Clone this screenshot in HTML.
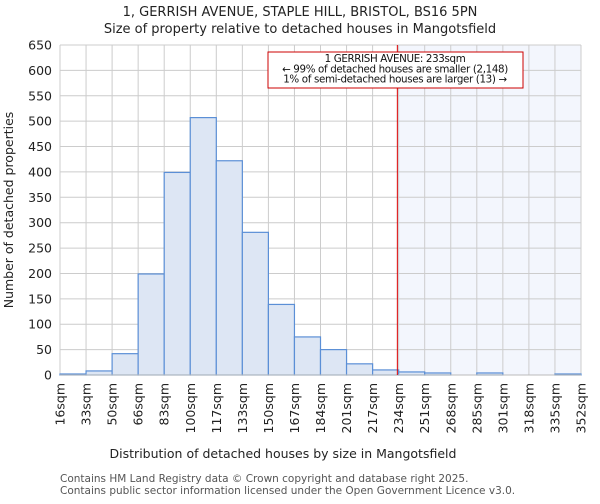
<!DOCTYPE html>
<html><head><meta charset="utf-8"><style>
body{margin:0;background:#fff;font-family:"DejaVu Sans","Liberation Sans",sans-serif}
</style></head><body>
<svg width="600" height="500" xmlns="http://www.w3.org/2000/svg" font-family="DejaVu Sans, Liberation Sans, sans-serif">
<text x="300" y="16" text-anchor="middle" font-size="13" fill="#222">1, GERRISH AVENUE, STAPLE HILL, BRISTOL, BS16 5PN</text>
<text x="300" y="33" text-anchor="middle" font-size="13" fill="#222">Size of property relative to detached houses in Mangotsfield</text>
<g id="plot"></g>
<text x="283" y="458" text-anchor="middle" font-size="12.5" fill="#222">Distribution of detached houses by size in Mangotsfield</text>
<text transform="translate(13,210) rotate(-90)" text-anchor="middle" font-size="12.5" fill="#222">Number of detached properties</text>
<text x="60" y="482" font-size="10.5" fill="#555">Contains HM Land Registry data © Crown copyright and database right 2025.</text>
<text x="60" y="494" font-size="10.5" fill="#555">Contains public sector information licensed under the Open Government Licence v3.0.</text>
</svg>
<script>
const categories=["16sqm","33sqm","50sqm","66sqm","83sqm","100sqm","117sqm","133sqm","150sqm","167sqm","184sqm","201sqm","217sqm","234sqm","251sqm","268sqm","285sqm","301sqm","318sqm","335sqm","352sqm"];
const counts=[2,8,42,199,399,507,422,281,139,75,50,22,10,6,4,0,4,0,0,2];
const yTicks=[0,50,100,150,200,250,300,350,400,450,500,550,600,650];
const markerBin=12.95;
const NS="http://www.w3.org/2000/svg";
const g=document.getElementById('plot');
const L=60,R=581,T=45,B=375,yMax=650;
const n=counts.length,bw=(R-L)/n;
const x=i=>L+i*bw;
const y=v=>B-v/yMax*(B-T);
function mk(t,a){const e=document.createElementNS(NS,t);for(const k in a)e.setAttribute(k,a[k]);g.appendChild(e);return e;}
let e;
e=mk('rect',{x:x(markerBin),y:T,width:R-x(markerBin),height:B-T,fill:'#f3f6fd'});


yTicks.forEach(v=>{
 e=mk('line',{x1:L,x2:R,y1:y(v),y2:y(v),stroke:'#cccccc','stroke-width':1});
 
 
 e=mk('text',{x:L-8,y:y(v)+4.5,'text-anchor':'end','font-size':12.5,fill:'#222'});
 e.textContent=v;
 
 
});
categories.forEach((c,i)=>{
 e=mk('line',{x1:x(i),x2:x(i),y1:T,y2:B,stroke:'#cccccc','stroke-width':1});
 
 
 e=mk('text',{transform:`translate(${x(i)+4.5},${B+8}) rotate(-90)`,'text-anchor':'end','font-size':12.5,fill:'#222'});
 e.textContent=c;
 
 
});
counts.forEach((v,i)=>{
 if(v<=0)return;
 e=mk('rect',{x:x(i),y:y(v),width:bw,height:B-y(v),fill:'#dde6f4',stroke:'#5b8fd6','stroke-width':1.2});
 
 
});
e=mk('line',{x1:L,x2:R,y1:B,y2:B,stroke:'#bbb'});


e=mk('line',{x1:x(markerBin),x2:x(markerBin),y1:T,y2:B,stroke:'#dd0000','stroke-width':1});


e=mk('rect',{x:268,y:52,width:255,height:36,fill:'#fff',stroke:'#cc0000','stroke-width':1});


["1 GERRISH AVENUE: 233sqm","← 99% of detached houses are smaller (2,148)","1% of semi-detached houses are larger (13) →"].forEach((s,i)=>{
 e=mk('text',{x:395,y:62+i*10.3,'text-anchor':'middle','font-size':10.3,'letter-spacing':-0.35,fill:'#111'});
 e.textContent=s;
 
 
});
</script>
</body></html>
